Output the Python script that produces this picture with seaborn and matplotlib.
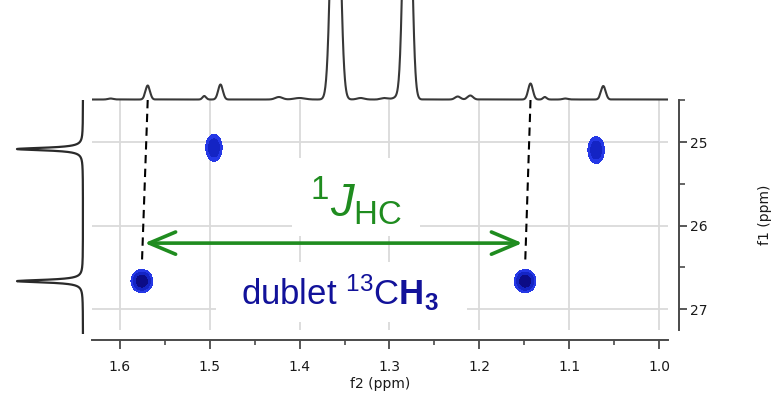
import numpy as np
import matplotlib
matplotlib.use('Agg')
import matplotlib.pyplot as plt
from matplotlib.patches import Rectangle, FancyArrowPatch
from matplotlib.ticker import MultipleLocator, FormatStrFormatter
import seaborn as sns

# 1H projection on top (f2): peak position (ppm), height (px), gaussian width (ppm)
top_ppm = [1.610, 1.569, 1.506, 1.488, 1.423, 1.400, 1.360, 1.332, 1.305, 1.292,
           1.280, 1.224, 1.210, 1.143, 1.127, 1.104, 1.062]
top_height = [1.0, 14.0, 3.5, 15.0, 2.5, 1.5, 346.0, 1.5, 1.5, 2.0,
              346.0, 3.0, 4.0, 16.0, 2.5, 1.0, 13.5]
top_width = [0.003, 0.0025, 0.002, 0.0026, 0.004, 0.006, 0.0044, 0.004, 0.004, 0.004,
             0.0040, 0.003, 0.003, 0.0026, 0.002, 0.003, 0.0026]

# 13C projection on the left (f1): peak position (ppm), height (px), lorentz width (ppm)
left_ppm = [25.084, 26.665]
left_height = [66.0, 66.0]
left_width = [0.019, 0.019]

# HSQC cross peaks
spot_f2 = [1.5755, 1.149, 1.4953, 1.070]
spot_f1 = [26.665, 26.665, 25.07, 25.096]
spot_amp = [1.0, 1.0, 0.55, 0.55]
spot_wf2 = [0.0061, 0.0061, 0.0055, 0.0055]
spot_wf1 = [0.070, 0.070, 0.097, 0.097]

# the 13C satellites that make the doublet (dashed guides)
sat_top = [1.569, 1.143]
sat_spot = [0, 1]

f2_lim = (1.631, 0.990)
f1_lim = (27.25, 24.497)

green = '#1f8c1f'
navy = '#12129a'

sns.set_theme(style='white')
plt.rcParams['font.family'] = ['DejaVu Sans']
plt.rcParams['mathtext.fontset'] = 'custom'
plt.rcParams['mathtext.rm'] = 'Liberation Sans'
plt.rcParams['mathtext.it'] = 'Liberation Sans:italic'
plt.rcParams['mathtext.bf'] = 'Liberation Sans:bold'

W, H = 779, 393
fig = plt.figure(figsize=(W / 100, H / 100), dpi=100)
ax = fig.add_axes([92 / W, (H - 330) / H, 576 / W, 230 / H])
ax_top = fig.add_axes([92 / W, (H - 103) / H, 576 / W, 103 / H])
ax_left = fig.add_axes([0, (H - 334) / H, 86 / W, 234 / H])

# top 1D spectrum
x = np.linspace(f2_lim[1], f2_lim[0], 4000)
spec = np.zeros_like(x)
for p, h, w in zip(top_ppm, top_height, top_width):
    spec += h * np.exp(-0.5 * ((x - p) / w) ** 2)
sns.lineplot(x=x, y=spec, ax=ax_top, color='#383838', lw=1.5,
             sort=False, estimator=None)
ax_top.set_xlim(*f2_lim)
ax_top.set_ylim(-3.5, 99.5)
ax_top.axis('off')
ax_top.patch.set_alpha(0)

# left 1D spectrum
f1_left = (f1_lim[0] + 4 / 83.5, f1_lim[1])
y = np.linspace(f1_left[1], f1_left[0], 4000)
proj = np.zeros_like(y)
for p, h, w in zip(left_ppm, left_height, left_width):
    proj += h / (1 + ((y - p) / w) ** 2)
sns.lineplot(x=proj, y=y, ax=ax_left, color='#2a2a2a', lw=1.6,
             sort=False, estimator=None, orient='y')
ax_left.set_xlim(83, -3)
ax_left.set_ylim(*f1_left)
ax_left.axis('off')
ax_left.patch.set_alpha(0)

# 2D map
gx, gy = np.meshgrid(np.linspace(f2_lim[1], f2_lim[0], 700),
                     np.linspace(f1_lim[1], f1_lim[0], 500))
z = np.zeros_like(gx)
for x0, y0, a, sx, sy in zip(spot_f2, spot_f1, spot_amp, spot_wf2, spot_wf1):
    z += a * np.exp(-0.5 * (((gx - x0) / sx) ** 2 + ((gy - y0) / sy) ** 2))
ax.contourf(gx, gy, z, levels=[0.14, 0.3, 0.6, 2.0],
            colors=['#2538e6', '#1424c4', '#0c0c86'], zorder=2)

ax.set_xlim(*f2_lim)
ax.set_ylim(*f1_lim)
ax.set_axisbelow(True)
ax.grid(True, which='major', color='#dadada', lw=1.3)

# white boxes behind the labels
ax.add_patch(Rectangle((1.4085, 25.19), -0.1425, 0.936, facecolor='white',
                       edgecolor='none', zorder=1))
ax.add_patch(Rectangle((1.493, 26.437), -0.2794, 0.72, facecolor='white',
                       edgecolor='none', zorder=1))

for t, s in zip(sat_top, sat_spot):
    ax.plot([t, spot_f2[s]], [f1_lim[1], spot_f1[s] - 0.195], color='black',
            lw=1.5, ls=(0, (4, 2.6)), zorder=3)

arrow = FancyArrowPatch((spot_f2[0] - 0.003, 26.21), (spot_f2[1] + 0.003, 26.21),
                        arrowstyle='<->,head_length=0.95,head_width=0.4',
                        mutation_scale=20, lw=2.6, color=green,
                        shrinkA=0, shrinkB=0, zorder=4)
ax.add_patch(arrow)

ax.text(1.337, 25.90, r'$^{1}\mathit{J}_{\mathrm{HC}}$', color=green, fontsize=34,
        ha='center', va='baseline', zorder=5)
ax.text(1.355, 26.95, r'dublet $^{13}$C$\mathbf{H}_{\mathbf{3}}$', color=navy,
        fontsize=25, family='Liberation Sans', ha='center', va='baseline', zorder=5)

# axes styling
for side in ['left', 'top']:
    ax.spines[side].set_visible(False)
ax.spines['bottom'].set_position(('outward', 7))
ax.spines['right'].set_position(('outward', 8))
for side in ['bottom', 'right']:
    ax.spines[side].set_color('#4a4a4a')
    ax.spines[side].set_linewidth(1.4)

ax.xaxis.set_major_locator(MultipleLocator(0.1))
ax.xaxis.set_minor_locator(MultipleLocator(0.05))
ax.xaxis.set_major_formatter(FormatStrFormatter('%.1f'))
ax.yaxis.set_major_locator(MultipleLocator(1))
ax.yaxis.set_minor_locator(MultipleLocator(0.5))
ax.yaxis.tick_right()
ax.yaxis.set_label_position('right')

ax.tick_params(axis='x', which='major', bottom=True, direction='out', length=6.5,
               width=1.3, pad=8, labelsize=10, color='#4a4a4a', labelcolor='#1a1a1a')
ax.tick_params(axis='x', which='minor', bottom=True, direction='out', length=3.6,
               width=1.2, color='#4a4a4a')
ax.tick_params(axis='y', which='major', right=True, left=False, direction='out',
               length=5.8, width=1.3, pad=2, labelsize=10, color='#4a4a4a',
               labelcolor='#1a1a1a')
ax.tick_params(axis='y', which='minor', right=True, left=False, direction='out',
               length=4.3, width=1.2, color='#4a4a4a')

ax.set_xlabel('f2 (ppm)', fontsize=10, labelpad=2, color='#1a1a1a')
ax.set_ylabel('f1 (ppm)', fontsize=10, labelpad=36, color='#1a1a1a')

fig.savefig('out.png', dpi=100)
